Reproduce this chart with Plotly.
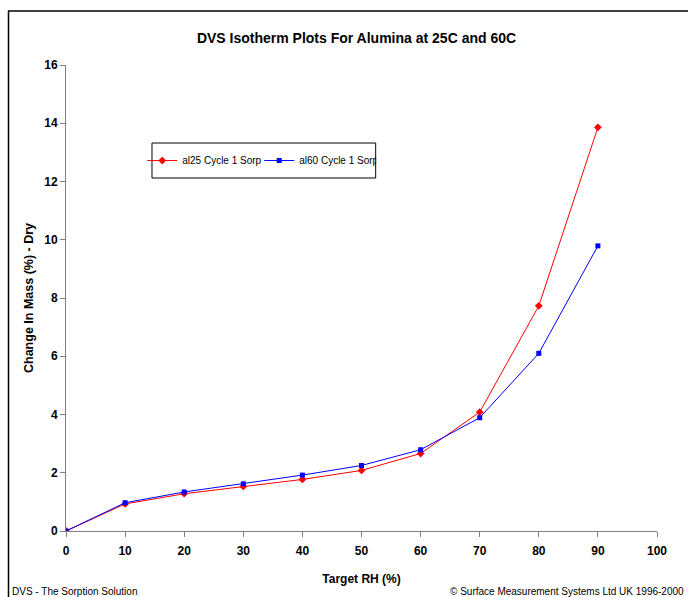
import plotly.graph_objects as go

rh = [0, 10, 20, 30, 40, 50, 60, 70, 80, 90]
al25 = [0.0, 0.93, 1.28, 1.53, 1.77, 2.08, 2.66, 4.08, 7.73, 13.86]
al60 = [0.0, 0.97, 1.34, 1.62, 1.92, 2.25, 2.79, 3.89, 6.10, 9.79]
x_ticks = [0, 10, 20, 30, 40, 50, 60, 70, 80, 90, 100]
y_ticks = [0, 2, 4, 6, 8, 10, 12, 14, 16]

FONT = "Liberation Sans, Arial"

fig = go.Figure()
fig.add_trace(go.Scatter(x=rh, y=al25, mode="lines+markers", name="al25 Cycle 1 Sorp",
                         line=dict(color="#ff0000", width=1),
                         marker=dict(symbol="diamond", size=6, color="#ff0000")))
fig.add_trace(go.Scatter(x=rh, y=al60, mode="lines+markers", name="al60 Cycle 1 Sorp",
                         line=dict(color="#0000ff", width=1),
                         marker=dict(symbol="square", size=5, color="#0000ff")))

W, H = 688, 597
fig.update_layout(
    width=W, height=H,
    margin=dict(l=66, r=31, t=65, b=66),
    paper_bgcolor="white", plot_bgcolor="white",
    font=dict(family=FONT, color="black"),
    title=dict(text="<b>DVS Isotherm Plots For Alumina at 25C and 60C</b>",
               xref="container", x=356.5 / W, xanchor="center",
               yref="container", y=1 - 38 / H, yanchor="middle",
               font=dict(size=14, family=FONT)),
    showlegend=True,
    legend=dict(orientation="h", x=0.129, y=0.795, xanchor="left", yanchor="middle",
                bgcolor="rgba(0,0,0,0)", borderwidth=0,
                font=dict(size=10, family=FONT), itemwidth=30, tracegroupgap=0,
                entrywidth=72, entrywidthmode="pixels"),
    xaxis=dict(range=[0, 100], tickvals=x_ticks, ticktext=[f"<b>{v}</b>" for v in x_ticks],
               showgrid=False, zeroline=False, showline=True, linecolor="#808080", linewidth=1,
               ticks="outside", ticklen=5, tickcolor="#808080", ticklabelstandoff=4,
               tickfont=dict(size=12, family=FONT),
               title=dict(text="<b>Target RH (%)</b>", font=dict(size=12, family=FONT), standoff=17)),
    yaxis=dict(range=[0, 16], tickvals=y_ticks, ticktext=[f"<b>{v}</b>" for v in y_ticks],
               showgrid=False, zeroline=False, showline=True, linecolor="#808080", linewidth=1,
               ticks="outside", ticklen=5, tickcolor="#808080",
               tickfont=dict(size=12, family=FONT),
               title=dict(text="<b>Change In Mass (%) - Dry</b>", font=dict(size=12.5, family=FONT), standoff=7)),
    shapes=[
        dict(type="line", xref="paper", yref="paper", x0=-58 / 591, x1=1.2, y0=1 + 54 / 466, y1=1 + 54 / 466,
             line=dict(color="black", width=1.5)),
        dict(type="line", xref="paper", yref="paper", x0=-57.5 / 591, x1=-57.5 / 591, y0=1 + 54 / 466, y1=-0.3,
             line=dict(color="black", width=1.5)),
        dict(type="rect", xref="paper", yref="paper", x0=0.1455, x1=0.524, y0=0.7575, y1=0.8326,
             line=dict(color="black", width=1), layer="above"),
    ],
    annotations=[
        dict(text="DVS - The Sorption Solution", xref="paper", yref="paper",
             x=-56 / 591, y=-60 / 466, xanchor="left", yanchor="middle", showarrow=False,
             font=dict(size=10, family=FONT)),
        dict(text="© Surface Measurement Systems Ltd UK 1996-2000", xref="paper", yref="paper",
             x=1 + 29 / 591, y=-60 / 466, xanchor="right", yanchor="middle", showarrow=False,
             font=dict(size=10, family=FONT)),
    ],
)

fig.write_html("out.html", config={"displayModeBar": False},
               post_script="document.body.style.margin='0';document.body.style.overflow='hidden';")
